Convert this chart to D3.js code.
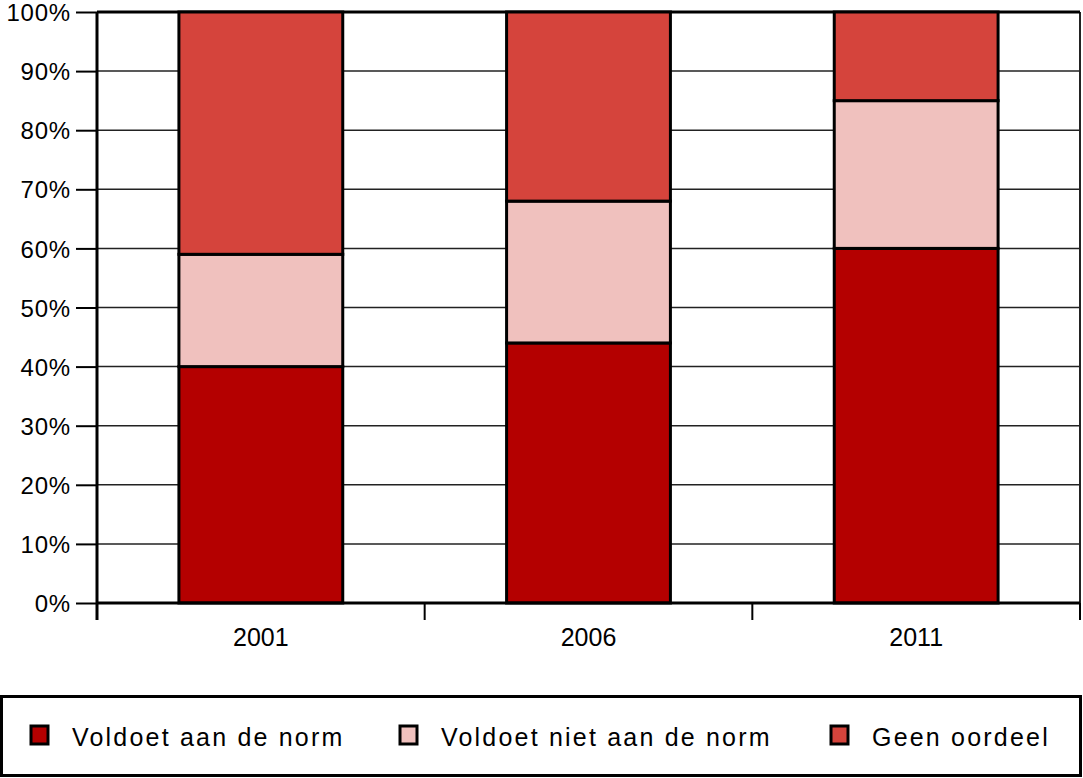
<!DOCTYPE html>
<html><head><meta charset="utf-8">
<script src="https://cdn.jsdelivr.net/npm/d3@7"></script>
<style>body{margin:0;background:#fff}svg{display:block}text{font-family:"Liberation Sans",Arial,sans-serif;fill:#000}</style>
</head><body>
<script>
const categories = ["2001","2006","2011"];
const seriesNames = ["Voldoet aan de norm","Voldoet niet aan de norm","Geen oordeel"];
const voldoet = [40,44,60];
const voldoetNiet = [19,24,25];
const geenOordeel = [41,32,15];
const colors = ["#b40000","#f0c1be","#d5443c"];
const yTicks = [0,10,20,30,40,50,60,70,80,90,100];

const W=1083,H=778;
const m={l:97,r:1080,t:12,b:603};
const svg=d3.select("body").append("svg").attr("width",W).attr("height",H);
const x=d3.scaleBand().domain(categories).range([m.l,m.r]).paddingInner(0.5).paddingOuter(0.25);
const xOuter=d3.scaleBand().domain(categories).range([m.l,m.r]);
const y=d3.scaleLinear().domain([0,100]).range([m.b,m.t]);

// gridlines
svg.append("g").selectAll("line").data(yTicks).join("line")
 .attr("x1",m.l).attr("x2",m.r).attr("y1",d=>y(d)).attr("y2",d=>y(d))
 .attr("stroke","#222").attr("stroke-width",1.5);
// right border
svg.append("line").attr("x1",m.r).attr("x2",m.r).attr("y1",m.t).attr("y2",m.b).attr("stroke","#222").attr("stroke-width",2);
svg.append("line").attr("x1",m.l).attr("x2",m.r).attr("y1",m.t).attr("y2",m.t).attr("stroke","#000").attr("stroke-width",3);

const rows=categories.map((c,i)=>({cat:c,v:[voldoet[i],voldoetNiet[i],geenOordeel[i]]}));
const stack=d3.stack().keys([0,1,2]).value((d,k)=>d.v[k]);
const series=stack(rows);
svg.append("g").selectAll("g").data(series).join("g").attr("fill",(d,i)=>colors[i])
 .selectAll("rect").data(d=>d).join("rect")
 .attr("x",d=>x(d.data.cat)).attr("width",x.bandwidth())
 .attr("y",d=>y(d[1])).attr("height",d=>y(d[0])-y(d[1]))
 .attr("stroke","#000").attr("stroke-width",3);

// y axis
const ya=svg.append("g").attr("transform",`translate(${m.l},0)`)
 .call(d3.axisLeft(y).tickValues(yTicks).tickFormat(d=>d+"%").tickSize(21).tickPadding(5));
ya.select(".domain").remove();
ya.selectAll(".tick line").attr("stroke","#000").attr("stroke-width",2);
ya.selectAll(".tick text").attr("font-size",24).attr("letter-spacing",0.8).attr("dy","0.36em").attr("font-family","Liberation Sans, Arial, sans-serif");
svg.append("line").attr("x1",m.l).attr("x2",m.l).attr("y1",m.t).attr("y2",620).attr("stroke","#000").attr("stroke-width",3);

// x axis
svg.append("line").attr("x1",m.l).attr("x2",m.r).attr("y1",m.b).attr("y2",m.b).attr("stroke","#000").attr("stroke-width",3);
const bounds=[...categories.map(c=>xOuter(c)),m.r];
svg.append("g").selectAll("line").data(bounds).join("line")
 .attr("x1",d=>d).attr("x2",d=>d).attr("y1",m.b).attr("y2",620).attr("stroke","#000").attr("stroke-width",2);
svg.append("g").selectAll("text").data(categories).join("text")
 .attr("x",d=>x(d)+x.bandwidth()/2).attr("y",646).attr("text-anchor","middle").attr("font-size",25).text(d=>d);

// legend
svg.append("rect").attr("x",1.5).attr("y",696.5).attr("width",1079).attr("height",79).attr("fill","#fff").attr("stroke","#000").attr("stroke-width",3);
const legX=[30,399,830];
const lg=svg.append("g").selectAll("g").data(seriesNames).join("g").attr("transform",(d,i)=>`translate(${legX[i]},0)`);
lg.append("rect").attr("x",1).attr("y",726).attr("width",17).attr("height",18).attr("fill",(d,i)=>colors[i]).attr("stroke","#000").attr("stroke-width",3);
lg.append("text").attr("x",42).attr("y",746).attr("font-size",25).attr("letter-spacing",2.2).text(d=>d);
</script>
</body></html>
